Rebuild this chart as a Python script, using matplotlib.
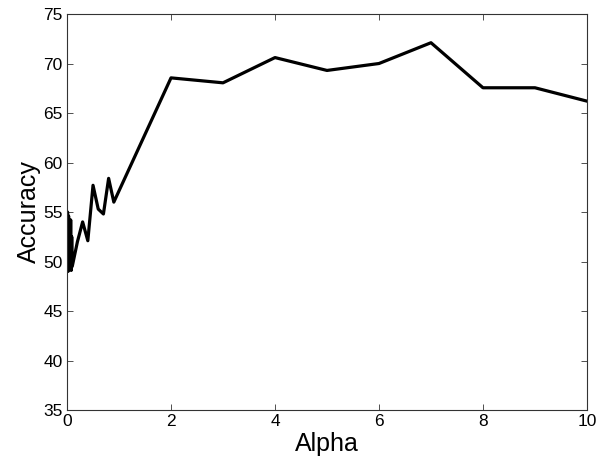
import matplotlib
matplotlib.use("Agg")
import matplotlib.pyplot as plt

alpha = [0, 0.01, 0.02, 0.03, 0.04, 0.05, 0.06, 0.07, 0.08, 0.09, 0.1,
         0.2, 0.3, 0.4, 0.5, 0.6, 0.7, 0.8, 0.9,
         2, 3, 4, 5, 6, 7, 8, 9, 10]
accuracy = [49.2, 55.0, 49.0, 54.6, 49.3, 53.5, 49.8, 54.2, 49.1, 52.5, 49.5,
            52.0, 54.0, 52.1, 57.7, 55.3, 54.8, 58.4, 56.0,
            68.55, 68.05, 70.6, 69.3, 70.0, 72.1, 67.55, 67.55, 66.2]
xticks = [0, 2, 4, 6, 8, 10]
yticks = [35, 40, 45, 50, 55, 60, 65, 70, 75]

plt.rcParams['font.family'] = ['Liberation Sans', 'DejaVu Sans']
fig = plt.figure(figsize=(5.99, 4.67), dpi=100)
ax = fig.add_axes([0.1119, 0.122, 0.868, 0.848])
ax.plot(alpha, accuracy, color='black', linewidth=2.3, solid_joinstyle='round')
ax.set_xlim(0, 10)
ax.set_ylim(35, 75)
ax.set_xticks(xticks)
ax.set_yticks(yticks)
ax.tick_params(direction='in', top=True, right=True, labelsize=12.5, length=4, width=0.6, color='#333333', pad=3)
for s in ax.spines.values():
    s.set_linewidth(0.8)
    s.set_color('#333333')
ax.set_xlabel('Alpha', fontsize=18, labelpad=2)
ax.set_ylabel('Accuracy', fontsize=18, labelpad=2)
fig.savefig('out.png', dpi=100)
